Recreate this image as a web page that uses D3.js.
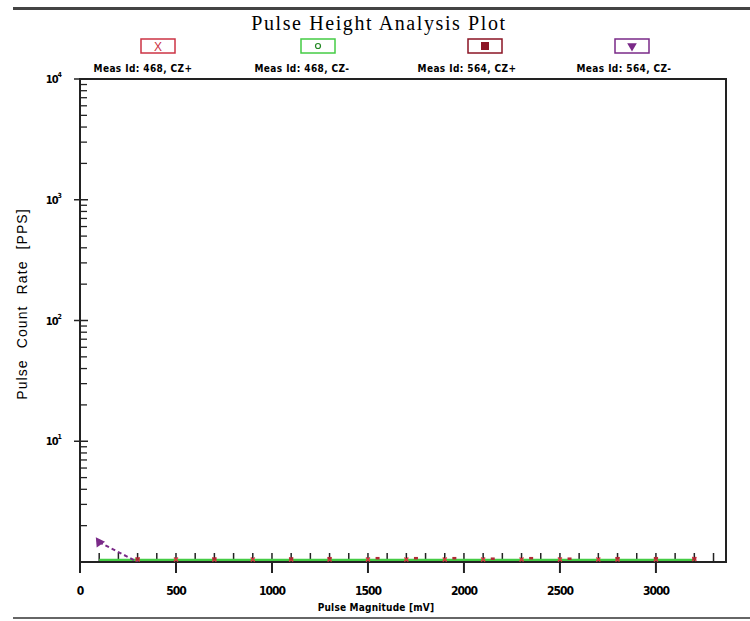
<!DOCTYPE html>
<meta charset="utf-8">
<script src="https://d3js.org/d3.v7.min.js"></script>
<style>
  body { margin: 0; background: #fff; }
</style>
<div id="my_dataviz"></div>
<script>

// data
var seriesNames = ["Meas Id: 468, CZ+", "Meas Id: 468, CZ-", "Meas Id: 564, CZ+", "Meas Id: 564, CZ-"]
var seriesColors = ["#cc3344", "#44cc44", "#8b1525", "#7a2a88"]

var greenX = [100,200,300,400,500,600,700,800,900,1000,1100,1200,1300,1400,1500,1600,1700,1800,1900,2000,2100,2200,2300,2400,2500,2600,2700,2800,2900,3000,3100,3200]
var greenY = [1.04,1.04,1.04,1.04,1.04,1.04,1.04,1.04,1.04,1.04,1.04,1.04,1.04,1.04,1.04,1.04,1.04,1.04,1.04,1.04,1.04,1.04,1.04,1.04,1.04,1.04,1.04,1.04,1.04,1.04,1.04,1.04]

var redX = [300,500,700,900,1100,1300,1500,1700,1900,2100,2300,2500,2700,2800,3000,3200]
var redY = [1.05,1.05,1.05,1.05,1.05,1.05,1.05,1.05,1.05,1.05,1.05,1.05,1.05,1.05,1.05,1.06]

var maroonX = [300,700,1100,1300,1550,1750,1950,2150,2350,2550,2800,3000,3200]
var maroonY = [1.04,1.04,1.04,1.05,1.05,1.05,1.05,1.04,1.05,1.04,1.05,1.05,1.04]

var purpleX = [100,300]
var purpleY = [1.46,1.0]

var xTicks = [0,500,1000,1500,2000,2500,3000]
var yTicks = [1e4,1e3,1e2,1e1]
var yTickExp = ["4","3","2","1"]

var margin = {top: 79, right: 24, bottom: 59, left: 80},
    width = 750 - margin.left - margin.right,
    height = 621 - margin.top - margin.bottom;

var root = d3.select("#my_dataviz")
  .append("svg")
    .attr("width", 750)
    .attr("height", 621)

// frame lines of the picture
root.append("rect").attr("x", 13).attr("y", 7).attr("width", 737).attr("height", 3).attr("fill", "#444")
root.append("rect").attr("x", 13).attr("y", 617).attr("width", 737).attr("height", 2).attr("fill", "#666")

root.append("text")
  .attr("x", 379).attr("y", 30)
  .attr("text-anchor", "middle")
  .style("font-family", "Liberation Serif")
  .style("font-size", "20px")
  .style("letter-spacing", "1.6px")
  .text("Pulse Height Analysis Plot")

var svg = root.append("g")
  .attr("transform", "translate(" + margin.left + "," + margin.top + ")")

var x = d3.scaleLinear().domain([0, 3365]).range([0, width])
var y = d3.scaleLog().domain([1, 1e4]).range([height, 0])

// box
svg.append("rect")
  .attr("width", width).attr("height", height)
  .attr("fill", "none").attr("stroke", "#222").attr("stroke-width", 2)

// x ticks: minor inside every 100, major crossing every 500
var xMinor = d3.range(100, 3365, 100)
svg.selectAll(".xminor").data(xMinor).enter().append("line")
  .attr("x1", function(d){ return x(d) }).attr("x2", function(d){ return x(d) })
  .attr("y1", height).attr("y2", height - 9)
  .attr("stroke", "#222").attr("stroke-width", 1.5)
svg.selectAll(".xmajor").data(xTicks).enter().append("line")
  .attr("x1", function(d){ return x(d) }).attr("x2", function(d){ return x(d) })
  .attr("y1", height + 11).attr("y2", height)
  .attr("stroke", "#222").attr("stroke-width", 2)
svg.selectAll(".xlab").data(xTicks).enter().append("text")
  .attr("x", function(d){ return x(d) }).attr("y", height + 33)
  .attr("text-anchor", "middle")
  .style("font-family", "DejaVu Sans Condensed").style("font-weight", "bold")
  .style("font-size", "12px").style("letter-spacing", "-1px")
  .text(function(d){ return d })

// y ticks
var yMinor = []
for (var e = 0; e < 4; e++) for (var k = 2; k <= 9; k++) yMinor.push(k * Math.pow(10, e))
svg.selectAll(".yminor").data(yMinor).enter().append("line")
  .attr("x1", 0).attr("x2", 7)
  .attr("y1", function(d){ return y(d) }).attr("y2", function(d){ return y(d) })
  .attr("stroke", "#222").attr("stroke-width", 1.3)
svg.selectAll(".ymajor").data(yTicks).enter().append("line")
  .attr("x1", -6).attr("x2", 8)
  .attr("y1", function(d){ return y(d) }).attr("y2", function(d){ return y(d) })
  .attr("stroke", "#222").attr("stroke-width", 1.5)
var ylab = svg.selectAll(".ylab").data(yTicks).enter().append("text")
  .attr("x", -18).attr("y", function(d){ return y(d) + 4 })
  .attr("text-anchor", "end")
  .style("font-family", "DejaVu Sans Condensed").style("font-weight", "bold")
  .style("font-size", "11px")
ylab.append("tspan").style("letter-spacing", "-1px").text("10")
ylab.append("tspan").attr("dy", -6).style("font-size", "7px")
  .text(function(d, i){ return yTickExp[i] })

// axis titles
root.append("text")
  .attr("transform", "translate(27,304) rotate(-90)")
  .attr("text-anchor", "middle")
  .style("font-family", "Liberation Sans").style("font-size", "14px")
  .style("letter-spacing", "1.1px").style("word-spacing", "6px")
  .text("Pulse Count Rate [PPS]")
root.append("text")
  .attr("x", 376).attr("y", 611)
  .attr("text-anchor", "middle")
  .style("font-family", "DejaVu Sans Condensed").style("font-weight", "bold")
  .style("font-size", "10px").style("letter-spacing", "0.2px")
  .text("Pulse Magnitude [mV]")

// clip
svg.append("clipPath").attr("id", "clip").append("rect")
  .attr("width", width).attr("height", height)
var plot = svg.append("g").attr("clip-path", "url(#clip)")

function pts(xs, ys) { return xs.map(function(d, i){ return {x: d, y: ys[i]} }) }
var line = d3.line().x(function(d){ return x(d.x) }).y(function(d){ return y(d.y) })

// green series (o) line
plot.append("path").datum(pts(greenX, greenY))
  .attr("d", line).attr("fill", "none")
  .attr("stroke", seriesColors[1]).attr("stroke-width", 2.2)

// red X markers
plot.selectAll(".redm").data(pts(redX, redY)).enter().append("path")
  .attr("d", function(d){ var cx = x(d.x), cy = y(d.y)
    return "M" + (cx-2) + "," + (cy-2) + "L" + (cx+2) + "," + (cy+2) + "M" + (cx-2) + "," + (cy+2) + "L" + (cx+2) + "," + (cy-2) })
  .attr("stroke", "#dd3340").attr("stroke-width", 1.4)

// maroon squares
plot.selectAll(".marm").data(pts(maroonX, maroonY)).enter().append("rect")
  .attr("x", function(d){ return x(d.x) - 2 }).attr("y", function(d){ return y(d.y) - 2.5 })
  .attr("width", 4).attr("height", 2.5)
  .attr("fill", "#b02a35")

// purple dashed + triangle
plot.append("path").datum(pts(purpleX, purpleY))
  .attr("d", line).attr("fill", "none")
  .attr("stroke", seriesColors[3]).attr("stroke-width", 2)
  .attr("stroke-dasharray", "4,3")
plot.append("path")
  .attr("transform", "translate(" + x(purpleX[0]) + "," + y(purpleY[0]) + ") rotate(-35)")
  .attr("d", d3.symbol().type(d3.symbolTriangle).size(45))
  .attr("fill", seriesColors[3])

// legend
var legX = [158, 318, 485, 632]
var labX = [143, 302, 467, 624]
var leg = root.selectAll(".leg").data(seriesNames).enter().append("g")
leg.append("rect")
  .attr("x", function(d, i){ return legX[i] - 17 }).attr("y", 39)
  .attr("width", 34).attr("height", 14)
  .attr("fill", "#fff")
  .attr("stroke", function(d, i){ return seriesColors[i] }).attr("stroke-width", 1.5)
leg.append("text")
  .attr("x", function(d, i){ return labX[i] }).attr("y", 72)
  .attr("text-anchor", "middle")
  .style("font-family", "DejaVu Sans Condensed").style("font-weight", "bold")
  .style("font-size", "10px").style("letter-spacing", "0.4px")
  .text(function(d){ return d })

// legend symbols
root.append("text").attr("x", legX[0]).attr("y", 51).attr("text-anchor", "middle")
  .style("font-family", "Liberation Sans").style("font-size", "12px")
  .attr("fill", seriesColors[0]).text("X")
root.append("circle").attr("cx", legX[1]).attr("cy", 46).attr("r", 2.5)
  .attr("fill", "none").attr("stroke", "#228822").attr("stroke-width", 1.2)
root.append("rect").attr("x", legX[2] - 4).attr("y", 42).attr("width", 8).attr("height", 8)
  .attr("fill", seriesColors[2])
root.append("path")
  .attr("transform", "translate(" + legX[3] + ",46) rotate(180)")
  .attr("d", d3.symbol().type(d3.symbolTriangle).size(40))
  .attr("fill", seriesColors[3])

</script>
